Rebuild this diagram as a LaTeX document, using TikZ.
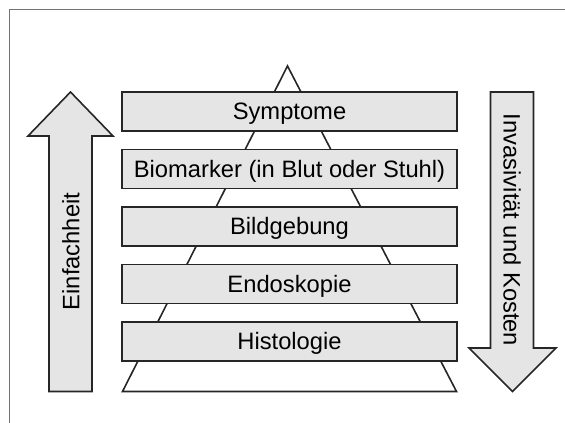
\documentclass[tikz,border=0pt]{standalone}
\usepackage{fontspec}
\setsansfont{Liberation Sans}
\usepackage{tikz}
\usetikzlibrary{positioning}

\begin{document}
\begin{tikzpicture}[x=0.75pt,y=-0.75pt,font=\sffamily\fontsize{17.8}{21}\selectfont]
    \tikzstyle{stufe}=[draw=black!85, line width=1.2pt, fill=black!10, minimum width=251.25pt, minimum height=29.25pt, text height=16pt, text depth=3.25pt, inner sep=0pt, node distance=43.125pt, on grid]
    \tikzstyle{pfeil}=[draw=black!85, line width=1.2pt, fill=black!10, line join=miter]
    \useasboundingbox (0,0) rectangle (565,423);
    \draw[black!55, line width=1.1pt] (9.5,423) -- (9.5,9.5) -- (565,9.5);

    % pyramid behind the boxes
    \coordinate (spitze) at (287.5,66);
    \coordinate (basisl) at (122.5,391.5);
    \coordinate (basisr) at (456.5,391.5);
    \draw[pfeil, fill=white] (spitze) -- (basisl) -- (basisr) -- cycle;

    \node[stufe] (symptome) at (289.5,111.5) {Symptome};
    \node[stufe,below=of symptome] (biomarker) {Biomarker (in Blut oder Stuhl)};
    \node[stufe,below=of biomarker] (bildgebung) {Bildgebung};
    \node[stufe,below=of bildgebung] (endoskopie) {Endoskopie};
    \node[stufe,below=of endoskopie] (histologie) {Histologie};

    % arrows left and right
    \draw[pfeil] (49,391.5) -- (49,136) -- (28,136) -- (70.5,92) -- (113,136) -- (92,136) -- (92,391.5) -- cycle;
    \draw[pfeil] (490.5,92) -- (533.5,92) -- (533.5,348) -- (556,348) -- (512.5,391.5) -- (469,348) -- (490.5,348) -- cycle;
    \node[rotate=90] (einfach) at (71,251.5) {Einfachheit};
    \node[rotate=-90] (invasiv) at (512,230) {Invasivität und Kosten};
\end{tikzpicture}
\end{document}
